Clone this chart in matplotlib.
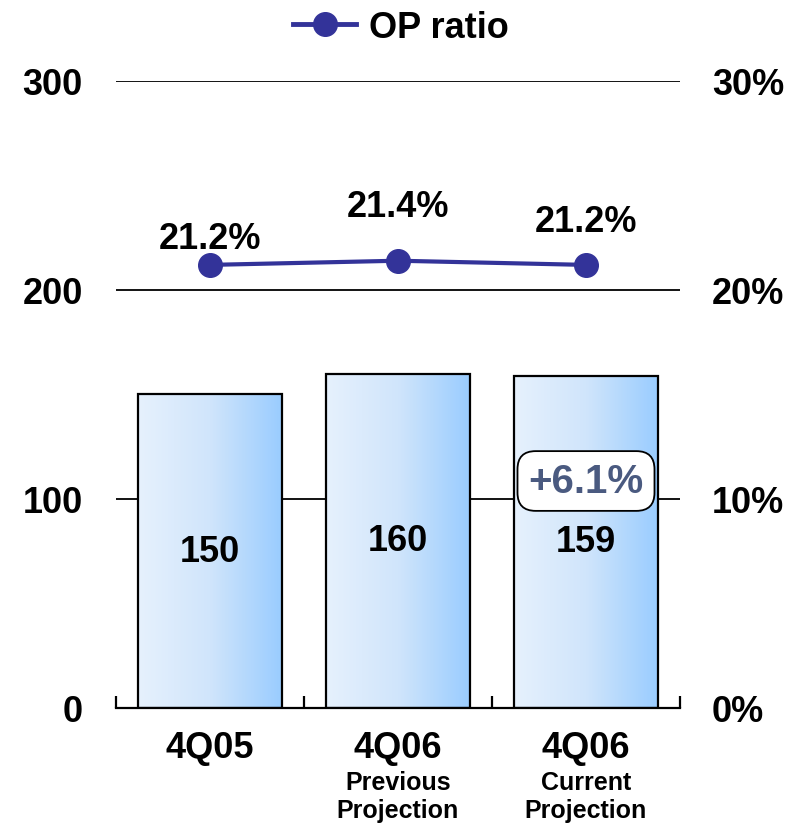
import numpy as np
import matplotlib.pyplot as plt
from matplotlib.lines import Line2D
from matplotlib.colors import LinearSegmentedColormap

plt.rcParams['font.family'] = ['Liberation Sans', 'DejaVu Sans']
plt.rcParams['font.weight'] = 'bold'

# operating profit and OP ratio
categories = ["4Q05", "4Q06", "4Q06"]
sub_labels = ["", "Previous\nProjection", "Current\nProjection"]
op_values = [150, 160, 159]
op_ratio = [21.2, 21.4, 21.2]
growth_note = "+6.1%"

FS = 26

fig = plt.figure(figsize=(7.97, 8.29), dpi=100)
ax = fig.add_axes([0.1455, 0.1448, 0.7077, 0.7563])

x = np.arange(len(categories))

# gridlines behind bars
for yv in [100, 200, 300]:
    ax.axhline(yv, color='black', lw=1.3, zorder=0)

bars = ax.bar(x, op_values, width=0.766, facecolor='none', edgecolor='black',
              linewidth=1.6, zorder=3)

# horizontal gradient fill inside each bar
grad = np.linspace(0, 1, 256).reshape(1, -1)
cmap = LinearSegmentedColormap.from_list('barfill', ['#e6f1fd', '#d0e5fb', '#99ccff'])
for b in bars:
    x0, w, h = b.get_x(), b.get_width(), b.get_height()
    ax.imshow(grad, cmap=cmap, aspect='auto', extent=[x0, x0 + w, 0, h],
              zorder=2, interpolation='bicubic')
ax.set_xlim(-0.5, len(categories) - 0.5)
ax.set_ylim(0, 300)

for xi, v in zip(x, op_values):
    ax.text(xi, v / 2, str(v), ha='center', va='center', fontsize=FS,
            fontweight='bold', zorder=5)

for side in ['left', 'right', 'top']:
    ax.spines[side].set_visible(False)
ax.spines['bottom'].set_linewidth(1.6)
ax.spines['bottom'].set_zorder(4)

# category boundary ticks pointing up
ax.set_xticks(np.arange(-0.5, len(categories)))
ax.set_xticklabels([])
ax.tick_params(axis='x', direction='in', length=9, width=1.6)

ax.set_yticks([0, 100, 200, 300])
ax.set_yticklabels(['0', '100', '200', '300'], fontsize=FS, fontweight='bold')
ax.tick_params(axis='y', length=0, pad=24)

for xi, cat, sub in zip(x, categories, sub_labels):
    ax.text(xi, -0.063, cat, transform=ax.get_xaxis_transform(), ha='center',
            va='center', fontsize=FS, fontweight='bold')
    if sub:
        ax.text(xi, -0.099, sub, transform=ax.get_xaxis_transform(), ha='center',
                va='top', fontsize=18, fontweight='bold', linespacing=1.2)

ax2 = ax.twinx()
ax2.set_ylim(0, 30)
ax2.set_yticks([0, 10, 20, 30])
ax2.set_yticklabels(['0%', '10%', '20%', '30%'], fontsize=FS, fontweight='bold')
ax2.tick_params(axis='y', length=0, pad=23)
for side in ['left', 'right', 'top', 'bottom']:
    ax2.spines[side].set_visible(False)

ax2.plot(x, op_ratio, color='#333399', lw=3, marker='o', markersize=17, zorder=6)
label_offsets = [19, 39, 31]
for xi, r, off in zip(x, op_ratio, label_offsets):
    ax2.annotate(f"{r:.1f}%", (xi, r), xytext=(0, off), textcoords='offset points',
                 ha='center', va='center', fontsize=FS, fontweight='bold')

ax2.text(2, 10.86, growth_note, ha='center', va='center', fontsize=29,
         fontweight='bold', color='#4a5a80', zorder=8,
         bbox=dict(boxstyle='round,pad=0.27,rounding_size=0.45', fc='white',
                   ec='black', lw=1.3))

handle = Line2D([], [], color='#333399', lw=3.5, marker='o', markersize=17)
fig.legend([handle], ['OP ratio'], loc='center', bbox_to_anchor=(0.503, 0.966),
           frameon=False, prop={'size': FS, 'weight': 'bold'}, handlelength=1.75,
           handletextpad=0.35)

fig.savefig('out.png', dpi=100)
